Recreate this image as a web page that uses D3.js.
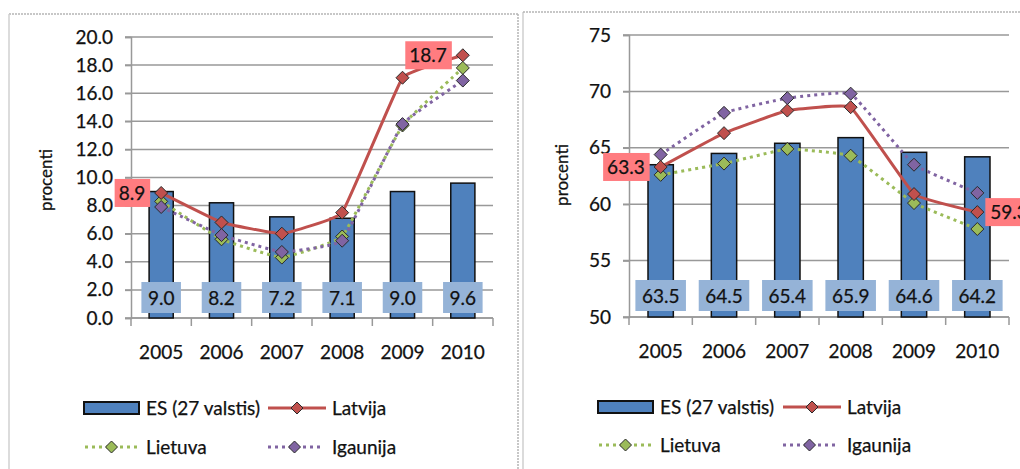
<!DOCTYPE html>
<html>
<head>
<meta charset="utf-8">
<script src="https://cdn.jsdelivr.net/npm/d3@7/dist/d3.min.js"></script>
<style>
  html, body { margin: 0; padding: 0; background: #fff; }
  svg { display: block; font-family: Lato, "Open Sans", sans-serif; }
  svg text { stroke: #111; stroke-width: 0.25px; }
</style>
</head>
<body>
<svg id="chart" width="1020" height="469"></svg>
<script>
// ---- data ----
const years = ["2005", "2006", "2007", "2008", "2009", "2010"];
const seriesNames = ["ES (27 valstis)", "Latvija", "Lietuva", "Igaunija"];
const yAxisTitle = "procenti";

// left panel: unemployment rate
const unempES = [9.0, 8.2, 7.2, 7.1, 9.0, 9.6];
const unempLV = [8.9, 6.8, 6.0, 7.5, 17.1, 18.7];
const unempLT = [8.3, 5.6, 4.3, 5.8, 13.7, 17.8];
const unempEE = [7.9, 5.9, 4.7, 5.5, 13.8, 16.9];
const unempTicks = [0, 2, 4, 6, 8, 10, 12, 14, 16, 18, 20];

// right panel: employment rate
const emplES = [63.5, 64.5, 65.4, 65.9, 64.6, 64.2];
const emplLV = [63.3, 66.3, 68.3, 68.6, 60.9, 59.3];
const emplLT = [62.6, 63.6, 64.9, 64.3, 60.1, 57.8];
const emplEE = [64.4, 68.1, 69.4, 69.8, 63.5, 61.0];
const emplTicks = [50, 55, 60, 65, 70, 75];

// ---- styles ----
const C = {
  bar: "#4F81BD", barLabel: "#95B3D7",
  lv: "#C0504D", lt: "#9BBB59", ee: "#8064A2",
  lvLabel: "#FF7C80", grid: "#999999", text: "#111111"
};

const svg = d3.select("#chart");

// frames
const frame = svg.append("g");
frame.append("line").attr("x1", 9).attr("x2", 518).attr("y1", 14).attr("y2", 14)
  .attr("stroke", "#b5b5b5").attr("stroke-width", 1.5).attr("stroke-dasharray", "2 1");
frame.append("line").attr("x1", 9).attr("x2", 9).attr("y1", 14).attr("y2", 469)
  .attr("stroke", "#d0d0d0").attr("stroke-width", 1.5);
frame.append("line").attr("x1", 518).attr("x2", 518).attr("y1", 14).attr("y2", 469)
  .attr("stroke", "#b5b5b5").attr("stroke-width", 1.5).attr("stroke-dasharray", "2 1");
frame.append("line").attr("x1", 523).attr("x2", 523).attr("y1", 12).attr("y2", 469)
  .attr("stroke", "#cfcfcf").attr("stroke-width", 1.5);
frame.append("line").attr("x1", 523).attr("x2", 1020).attr("y1", 12).attr("y2", 12)
  .attr("stroke", "#b5b5b5").attr("stroke-width", 1.5).attr("stroke-dasharray", "2 1");

const diamond = r => `M0,${-r}L${r},0L0,${r}L${-r},0Z`;

function drawPanel(cfg) {
  const g = svg.append("g");
  const x = d3.scaleBand().domain(years).range([cfg.x0, cfg.x1])
    .paddingInner(0.6).paddingOuter(0.3);
  const y = d3.scaleLinear().domain([cfg.ticks[0], cfg.ticks[cfg.ticks.length - 1]])
    .range([cfg.yBottom, cfg.yTop]);
  const step = x.step();

  // gridlines
  g.append("g").selectAll("line").data(cfg.ticks).join("line")
    .attr("x1", cfg.x0 - 6).attr("x2", cfg.x1)
    .attr("y1", d => y(d)).attr("y2", d => y(d))
    .attr("stroke", C.grid).attr("stroke-width", 1.5);

  // y axis
  const yAxis = g.append("g").attr("transform", `translate(${cfg.x0},0)`)
    .call(d3.axisLeft(y).tickValues(cfg.ticks).tickFormat(cfg.tickFmt).tickSize(6).tickPadding(12));
  yAxis.select(".domain").attr("stroke", C.grid).attr("stroke-width", 1.5);
  yAxis.selectAll(".tick line").attr("stroke", C.grid).attr("stroke-width", 1.5);
  yAxis.selectAll(".tick text").attr("font-size", 19).attr("fill", C.text)
    .attr("font-family", "Lato, sans-serif");

  // x axis baseline and boundary ticks
  g.append("line").attr("x1", cfg.x0).attr("x2", cfg.x1)
    .attr("y1", cfg.yBottom).attr("y2", cfg.yBottom)
    .attr("stroke", C.grid).attr("stroke-width", 1.5);
  g.append("g").selectAll("line").data(d3.range(years.length + 1)).join("line")
    .attr("x1", i => cfg.x0 + i * step).attr("x2", i => cfg.x0 + i * step)
    .attr("y1", cfg.yBottom).attr("y2", cfg.yBottom + 8)
    .attr("stroke", C.grid).attr("stroke-width", 1.5);
  g.append("g").selectAll("text").data(years).join("text")
    .attr("x", d => x(d) + x.bandwidth() / 2).attr("y", cfg.yBottom + 41)
    .attr("text-anchor", "middle").attr("font-size", 19).attr("fill", C.text)
    .text(d => d);

  // y title
  g.append("text").attr("transform", `translate(${cfg.titleX},${cfg.titleY}) rotate(-90)`)
    .attr("text-anchor", "middle").attr("font-size", 17).attr("fill", C.text)
    .text(yAxisTitle);

  // bars
  g.append("g").selectAll("rect").data(cfg.es).join("rect")
    .attr("x", (d, i) => x(years[i])).attr("width", x.bandwidth())
    .attr("y", d => y(d)).attr("height", d => cfg.yBottom - y(d))
    .attr("fill", C.bar).attr("stroke", "#111").attr("stroke-width", 1.5);

  // lines
  const lineGen = d3.line().x((d, i) => x(years[i]) + x.bandwidth() / 2).y(d => y(d))
    .curve(d3.curveCardinal.tension(0.75));
  const series = [
    { vals: cfg.lt, color: C.lt, dash: "3 4" },
    { vals: cfg.ee, color: C.ee, dash: "3 4" },
    { vals: cfg.lv, color: C.lv, dash: null }
  ];
  series.forEach(s => {
    g.append("path").datum(s.vals).attr("d", lineGen).attr("fill", "none")
      .attr("stroke", s.color).attr("stroke-width", 3)
      .attr("stroke-dasharray", s.dash);
  });
  series.forEach(s => {
    g.append("g").selectAll("path").data(s.vals).join("path")
      .attr("d", diamond(6.5))
      .attr("transform", (d, i) => `translate(${x(years[i]) + x.bandwidth() / 2},${y(d)})`)
      .attr("fill", s.color).attr("stroke", "#2a2a2a").attr("stroke-width", 1);
  });

  // bar labels
  const bl = g.append("g").selectAll("g").data(cfg.es).join("g")
    .attr("transform", (d, i) => `translate(${x(years[i]) + x.bandwidth() / 2},${cfg.yBottom - cfg.boxBottom})`);
  bl.each(function (d) {
    const gg = d3.select(this);
    const t = gg.append("text").attr("text-anchor", "middle").attr("y", -8)
      .attr("font-size", 19).attr("fill", C.text).text(cfg.fmt(d));
    const w = t.node().getComputedTextLength();
    gg.insert("rect", "text").attr("x", -w / 2 - 6.5).attr("width", w + 13)
      .attr("y", -31).attr("height", 31).attr("fill", C.barLabel);
  });

  // Latvija endpoint labels
  cfg.lvLabels.forEach(lab => {
    const i = lab.index, v = cfg.lv[i];
    const px = x(years[i]) + x.bandwidth() / 2, py = y(v);
    const gg = g.append("g");
    const t = gg.append("text").attr("font-size", 19).attr("fill", C.text)
      .attr("text-anchor", lab.side === "left" ? "end" : "start")
      .attr("x", lab.side === "left" ? px - 16 : px + 13).attr("y", py + 7)
      .text(cfg.fmt(v));
    const w = t.node().getComputedTextLength();
    const bx = lab.side === "left" ? px - 16 - w - 4 : px + 8;
    gg.insert("rect", "text").attr("x", bx).attr("width", w + 9)
      .attr("y", py - 14).attr("height", 28).attr("fill", C.lvLabel);
  });

  // legend
  const L = cfg.legend;
  const lg = g.append("g");
  lg.append("rect").attr("x", L.x0).attr("y", L.y1 - 6).attr("width", 55).attr("height", 12)
    .attr("fill", C.bar).attr("stroke", "#111").attr("stroke-width", 2);
  const legText = (tx, ty, s) => lg.append("text").attr("x", tx).attr("y", ty + 7)
    .attr("font-size", 19).attr("fill", C.text).text(s);
  legText(L.x0 + 62, L.y1, seriesNames[0]);
  const legLine = (lx, ly, len, color, dash) => {
    lg.append("line").attr("x1", lx).attr("x2", lx + len).attr("y1", ly).attr("y2", ly)
      .attr("stroke", color).attr("stroke-width", 3).attr("stroke-dasharray", dash);
    lg.append("path").attr("d", diamond(6)).attr("transform", `translate(${lx + len / 2},${ly})`)
      .attr("fill", color).attr("stroke", "#2a2a2a").attr("stroke-width", 1);
  };
  legLine(L.x1, L.y1, 58, C.lv, null);
  legText(L.x1 + 64, L.y1, seriesNames[1]);
  legLine(L.x0 + 1, L.y2, 53, C.lt, "3 4");
  legText(L.x0 + 62, L.y2, seriesNames[2]);
  legLine(L.x1, L.y2, 53, C.ee, "3 4");
  legText(L.x1 + 64, L.y2, seriesNames[3]);
}

drawPanel({
  x0: 131, x1: 493, yTop: 37, yBottom: 318,
  ticks: unempTicks, fmt: d3.format(".1f"), tickFmt: d3.format(".1f"),
  es: unempES, lv: unempLV, lt: unempLT, ee: unempEE,
  titleX: 52, titleY: 180, boxBottom: 5,
  lvLabels: [{ index: 0, side: "left" }, { index: 5, side: "left" }],
  legend: { x0: 84, x1: 268, y1: 408, y2: 447 }
});

drawPanel({
  x0: 629, x1: 1009, yTop: 35, yBottom: 317,
  ticks: emplTicks, fmt: d3.format(".1f"), tickFmt: d3.format("d"),
  es: emplES, lv: emplLV, lt: emplLT, ee: emplEE,
  titleX: 568, titleY: 175, boxBottom: 6,
  lvLabels: [{ index: 0, side: "left" }, { index: 5, side: "right" }],
  legend: { x0: 598, x1: 783, y1: 407, y2: 445 }
});
</script>
</body>
</html>
